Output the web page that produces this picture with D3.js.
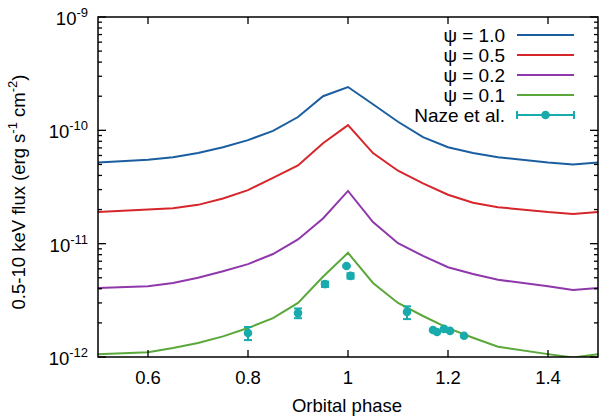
<!DOCTYPE html>
<html>
<head>
<meta charset="utf-8">
<script src="https://cdn.jsdelivr.net/npm/d3@7"></script>
<style>
  body { margin: 0; background: #fff; }
  text { font-family: "Liberation Sans", Arial, sans-serif; fill: #000; }
</style>
</head>
<body>
<div id="chart"></div>
<script>
(function () {
  // orbital phase grid of the model curves
  const phase = [0.5, 0.6, 0.65, 0.7, 0.75, 0.8, 0.85, 0.9, 0.95, 1.0, 1.05, 1.1, 1.15, 1.2, 1.25, 1.3, 1.4, 1.45, 1.5]

  // model fluxes (erg s-1 cm-2)
  const psi10 = [5.2e-11, 5.5e-11, 5.8e-11, 6.3e-11, 7.1e-11, 8.2e-11, 9.9e-11, 1.31e-10, 2.0e-10, 2.41e-10, 1.7e-10, 1.19e-10, 8.7e-11, 7.1e-11, 6.3e-11, 5.8e-11, 5.2e-11, 5.0e-11, 5.2e-11]
  const psi05 = [1.9e-11, 2.0e-11, 2.05e-11, 2.2e-11, 2.5e-11, 2.97e-11, 3.8e-11, 4.9e-11, 7.7e-11, 1.11e-10, 6.3e-11, 4.4e-11, 3.4e-11, 2.7e-11, 2.3e-11, 2.1e-11, 1.9e-11, 1.83e-11, 1.9e-11]
  const psi02 = [4.06e-12, 4.2e-12, 4.5e-12, 5.0e-12, 5.7e-12, 6.6e-12, 8.1e-12, 1.09e-11, 1.67e-11, 2.92e-11, 1.55e-11, 1.01e-11, 7.8e-12, 6.2e-12, 5.4e-12, 4.8e-12, 4.2e-12, 3.9e-12, 4.06e-12]
  const psi01 = [1.06e-12, 1.1e-12, 1.2e-12, 1.33e-12, 1.52e-12, 1.8e-12, 2.2e-12, 3.0e-12, 5.1e-12, 8.3e-12, 4.5e-12, 3.0e-12, 2.3e-12, 1.8e-12, 1.48e-12, 1.23e-12, 1.06e-12, 0.99e-12, 1.06e-12]

  // Naze et al. observations
  const obsPhase = [0.80, 0.90, 0.954, 0.997, 1.005, 1.118, 1.17, 1.178, 1.192, 1.204, 1.232]
  const obsFlux = [1.63e-12, 2.44e-12, 4.4e-12, 6.35e-12, 5.2e-12, 2.5e-12, 1.73e-12, 1.66e-12, 1.77e-12, 1.70e-12, 1.54e-12]
  const obsLow = [1.41e-12, 2.2e-12, 4.15e-12, 6.3e-12, 4.92e-12, 2.16e-12, 1.72e-12, 1.65e-12, 1.76e-12, 1.69e-12, 1.53e-12]
  const obsHigh = [1.84e-12, 2.68e-12, 4.62e-12, 6.4e-12, 5.48e-12, 2.8e-12, 1.74e-12, 1.67e-12, 1.78e-12, 1.71e-12, 1.55e-12]

  const xTicks = [0.6, 0.8, 1.0, 1.2, 1.4]
  const yTicks = [1e-12, 1e-11, 1e-10, 1e-9]

  const series = [
    { label: "ψ = 1.0", values: psi10, color: "#1b5e9f" },
    { label: "ψ = 0.5", values: psi05, color: "#d7262b" },
    { label: "ψ = 0.2", values: psi02, color: "#8f37ab" },
    { label: "ψ = 0.1", values: psi01, color: "#5aa83a" }
  ]
  const obsColor = "#19abab"

  const margin = { top: 17, right: 2, bottom: 62, left: 98 }
  const width = 600 - margin.left - margin.right
  const height = 419 - margin.top - margin.bottom

  const svg = d3.select("#chart")
    .append("svg")
    .attr("width", 600)
    .attr("height", 419)
    .append("g")
    .attr("transform", "translate(" + margin.left + "," + margin.top + ")")

  const x = d3.scaleLinear().domain([0.5, 1.5]).range([0, width])
  const y = d3.scaleLog().domain([1e-12, 1e-9]).range([height, 0])

  svg.append("clipPath").attr("id", "clip")
    .append("rect").attr("width", width).attr("height", height)

  const line = d3.line()
    .x(d => x(d[0]))
    .y(d => y(d[1]))

  const plot = svg.append("g").attr("clip-path", "url(#clip)")

  series.forEach(s => {
    plot.append("path")
      .datum(phase.map((p, i) => [p, s.values[i]]))
      .attr("d", line)
      .attr("fill", "none")
      .attr("stroke", s.color)
      .attr("stroke-width", 2)
  })

  // data points with error bars
  const obs = obsPhase.map((p, i) => ({ p: p, f: obsFlux[i], lo: obsLow[i], hi: obsHigh[i] }))
  const pts = plot.selectAll(".obs").data(obs).join("g").attr("class", "obs")
  pts.append("line")
    .attr("x1", d => x(d.p)).attr("x2", d => x(d.p))
    .attr("y1", d => y(d.lo)).attr("y2", d => y(d.hi))
    .attr("stroke", obsColor).attr("stroke-width", 2)
  pts.append("line")
    .attr("x1", d => x(d.p) - 4).attr("x2", d => x(d.p) + 4)
    .attr("y1", d => y(d.lo)).attr("y2", d => y(d.lo))
    .attr("stroke", obsColor).attr("stroke-width", 2)
  pts.append("line")
    .attr("x1", d => x(d.p) - 4).attr("x2", d => x(d.p) + 4)
    .attr("y1", d => y(d.hi)).attr("y2", d => y(d.hi))
    .attr("stroke", obsColor).attr("stroke-width", 2)
  pts.append("circle")
    .attr("cx", d => x(d.p)).attr("cy", d => y(d.f))
    .attr("r", 4.3)
    .attr("fill", obsColor)

  // ticks, mirrored on all four sides
  const ax = svg.append("g").attr("stroke", "#000").attr("stroke-width", 1.3)
  xTicks.forEach(t => {
    ax.append("line").attr("x1", x(t)).attr("x2", x(t)).attr("y1", height).attr("y2", height - 7)
    ax.append("line").attr("x1", x(t)).attr("x2", x(t)).attr("y1", 0).attr("y2", 7)
  })
  const minor = []
  for (let e = -12; e < -9; e++) {
    for (let m = 2; m <= 9; m++) minor.push(m * Math.pow(10, e))
  }
  yTicks.forEach(t => {
    ax.append("line").attr("x1", 0).attr("x2", 8).attr("y1", y(t)).attr("y2", y(t))
    ax.append("line").attr("x1", width).attr("x2", width - 8).attr("y1", y(t)).attr("y2", y(t))
  })
  minor.forEach(t => {
    ax.append("line").attr("x1", 0).attr("x2", 4).attr("y1", y(t)).attr("y2", y(t))
    ax.append("line").attr("x1", width).attr("x2", width - 4).attr("y1", y(t)).attr("y2", y(t))
  })

  svg.append("rect")
    .attr("width", width).attr("height", height)
    .attr("fill", "none").attr("stroke", "#000").attr("stroke-width", 1.5)

  // tick labels
  svg.selectAll(".xlab").data(xTicks).join("text")
    .attr("x", d => x(d))
    .attr("y", height + 27)
    .attr("text-anchor", "middle")
    .attr("font-size", "18.5px")
    .text(d => d3.format("")(+d.toFixed(1)))

  const yl = svg.selectAll(".ylab").data(yTicks).join("text")
    .attr("x", -10)
    .attr("y", d => y(d) + 8)
    .attr("text-anchor", "end")
    .attr("font-size", "18.5px")
  yl.append("tspan").text("10")
  yl.append("tspan")
    .attr("dy", -8)
    .attr("font-size", "13px")
    .text(d => Math.round(Math.log10(d)))

  svg.append("text")
    .attr("x", width / 2 - 1)
    .attr("y", height + 55)
    .attr("text-anchor", "middle")
    .attr("font-size", "18.5px")
    .text("Orbital phase")

  const ylabel = svg.append("text")
    .attr("transform", "translate(" + (-73) + "," + (height / 2 + 5) + ") rotate(-90)")
    .attr("text-anchor", "middle")
    .attr("font-size", "18.5px")
  ylabel.append("tspan").text("0.5-10 keV flux (erg s")
  ylabel.append("tspan").attr("dy", -8).attr("font-size", "13px").text("-1")
  ylabel.append("tspan").attr("dy", 8).text(" cm")
  ylabel.append("tspan").attr("dy", -8).attr("font-size", "13px").text("-2")
  ylabel.append("tspan").attr("dy", 8).text(")")

  // legend
  const lx = 407, ly = 18
  series.forEach((s, i) => {
    svg.append("text")
      .attr("x", lx).attr("y", ly + i * 20 + 7)
      .attr("text-anchor", "end")
      .attr("font-size", "19px")
      .text(s.label)
    svg.append("line")
      .attr("x1", lx + 12).attr("x2", lx + 69)
      .attr("y1", ly + i * 20).attr("y2", ly + i * 20)
      .attr("stroke", s.color).attr("stroke-width", 2)
  })
  const ny = ly + 4 * 20
  svg.append("text")
    .attr("x", lx).attr("y", ny + 7)
    .attr("text-anchor", "end")
    .attr("font-size", "19px")
    .text("Naze et al.")
  const leg = svg.append("g").attr("stroke", obsColor).attr("stroke-width", 2)
  leg.append("line").attr("x1", lx + 12).attr("x2", lx + 69).attr("y1", ny).attr("y2", ny)
  leg.append("line").attr("x1", lx + 12).attr("x2", lx + 12).attr("y1", ny - 4).attr("y2", ny + 4)
  leg.append("line").attr("x1", lx + 69).attr("x2", lx + 69).attr("y1", ny - 4).attr("y2", ny + 4)
  svg.append("circle").attr("cx", lx + 40.5).attr("cy", ny).attr("r", 4.3).attr("fill", obsColor)
})();
</script>
</body>
</html>
